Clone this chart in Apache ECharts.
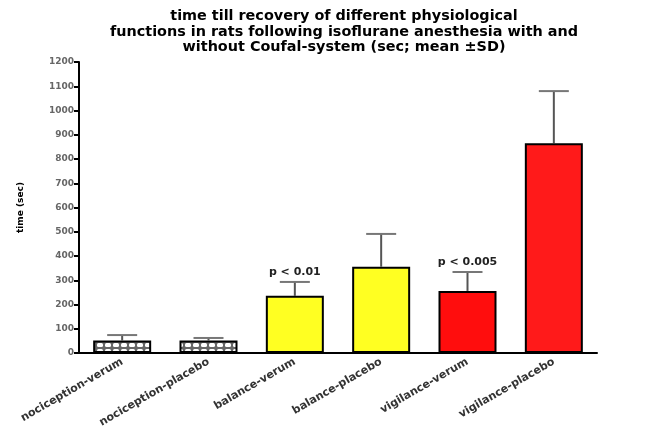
<!DOCTYPE html>
<html><head><meta charset="utf-8">
<script src="https://cdn.jsdelivr.net/npm/echarts@6/dist/echarts.min.js"></script>
<style>html,body{margin:0;padding:0;background:#fff}#c{width:653px;height:436px}</style>
</head><body><div id="c"></div>
<script>
const categories = ['nociception-verum','nociception-placebo','balance-verum','balance-placebo','vigilance-verum','vigilance-placebo'];
const means = [52, 52, 236, 356, 256, 865];
const sds = [22, 10, 57, 135, 78, 215];
const pLabels = ['', '', 'p < 0.01', '', 'p < 0.005', ''];
const yTicks = [0,100,200,300,400,500,600,700,800,900,1000,1100,1200];

const FONT = 'DejaVu Sans, Verdana, sans-serif';
// pattern for nociception bars
const pc = document.createElement('canvas');
pc.width = 8; pc.height = 6;
const g = pc.getContext('2d');
g.fillStyle = '#666'; g.fillRect(0,0,8,6);
g.fillStyle = '#fff';
g.beginPath();
if (g.roundRect) g.roundRect(1,1,6,4,1.5); else g.rect(1,1,6,4);
g.fill();
const colors = [{image: pc, repeat:'repeat'}, {image: pc, repeat:'repeat'}, '#ffff22', '#ffff22', '#ff0d0d', '#ff1a1a'];

const chart = echarts.init(document.getElementById('c'));
chart.setOption({
  animation:false,
  title:{text:'time till recovery of different physiological\nfunctions in rats following isoflurane anesthesia with and\nwithout Coufal-system (sec; mean \u00b1SD)',
    left:339, top:4, textAlign:'center',
    textStyle:{fontFamily:FONT, fontSize:14.4, fontWeight:'bold', color:'#000', lineHeight:15.5}},
  grid:{left:79, right:56, top:62, bottom:83},
  xAxis:{type:'category', data:categories,
    axisLine:{lineStyle:{color:'#000', width:2}},
    axisTick:{alignWithLabel:true, length:5, lineStyle:{color:'#000',width:2}},
    axisLabel:{rotate:30, interval:0, fontSize:11, fontWeight:'bold', color:'#333', fontFamily:FONT, margin:8}},
  yAxis:{type:'value', min:0, max:1200, interval:100,
    name:'time (sec)', nameLocation:'middle', nameGap:54, nameRotate:90,
    nameTextStyle:{fontSize:9, fontWeight:'bold', color:'#000', fontFamily:FONT},
    axisLine:{show:true, lineStyle:{color:'#000', width:2}},
    axisTick:{show:true, length:5, lineStyle:{color:'#000',width:2}},
    splitLine:{show:false},
    axisLabel:{fontSize:9, fontWeight:'bold', color:'#666', margin:5, fontFamily:FONT,
      formatter:v=> yTicks.indexOf(v)>=0 ? String(v) : ''}},
  series:[
    {type:'bar', barWidth:58, data:means.map((v,i)=>({value:v, itemStyle:{color:colors[i]}})),
     itemStyle:{borderColor:'#000', borderWidth:2}},
    {type:'custom', z:1,
     data:means.map((m,i)=>[i, m, m+sds[i]]),
     renderItem:(params, api)=>{
       const x = api.coord([api.value(0), api.value(1)]);
       const top = api.coord([api.value(0), api.value(2)]);
       const lbl = pLabels[params.dataIndex];
       const ch = [
         {type:'line', shape:{x1:x[0], y1:x[1], x2:top[0], y2:top[1]}, style:{stroke:'#555', lineWidth:2}},
         {type:'line', shape:{x1:x[0]-15, y1:top[1], x2:x[0]+15, y2:top[1]}, style:{stroke:'#777', lineWidth:2}}
       ];
       if (lbl) ch.push({type:'text', x:x[0], y:top[1]-4, style:{text:lbl, textAlign:'center', textVerticalAlign:'bottom',
         font:'bold 11px DejaVu Sans, Verdana, sans-serif', fill:'#222'}});
       return {type:'group', children:ch};
     }}
  ]
});
</script></body></html>
